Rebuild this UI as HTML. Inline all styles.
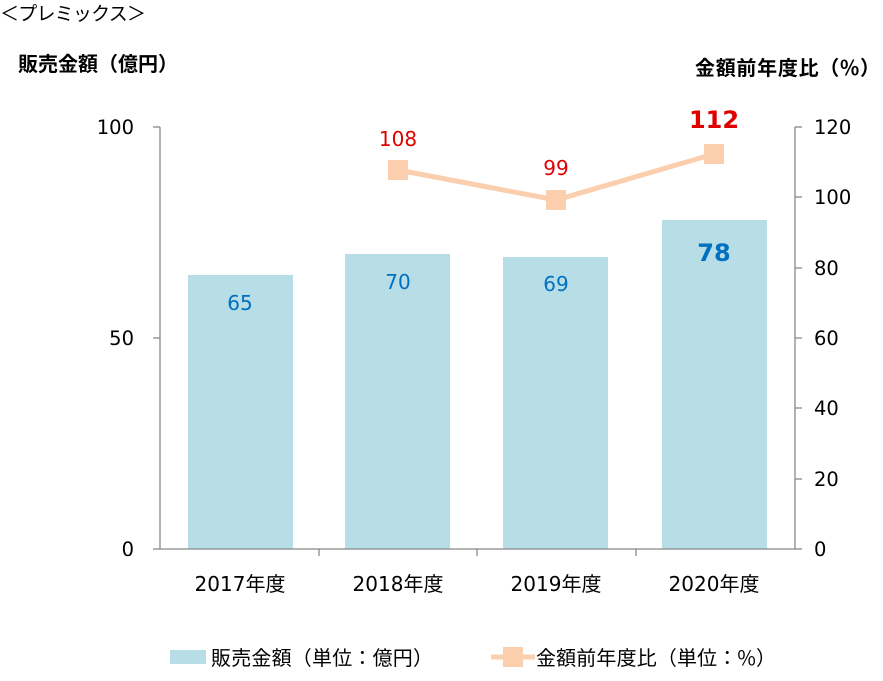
<!DOCTYPE html>
<html><head><meta charset="utf-8"><style>
body{margin:0;background:#fff;}
svg text{font-family:"DejaVu Sans","Liberation Sans","Noto Sans CJK JP",sans-serif;}
.j{font-family:"Noto Sans CJK JP",sans-serif !important;}
</style></head><body>
<svg width="883" height="676" viewBox="0 0 883 676" xmlns="http://www.w3.org/2000/svg">
<text x="0" y="20" font-size="19" fill="#000" class="j" textLength="146">＜プレミックス＞</text>
<text x="18" y="71" font-size="20" font-weight="bold" fill="#000" class="j">販売金額（億円）</text>
<text x="695" y="75" font-size="20" font-weight="bold" fill="#000" class="j" textLength="185">金額前年度比（%）</text>
<g fill="#b7dde7">
<rect x="188" y="275" width="105" height="274"/>
<rect x="345" y="254" width="105" height="295"/>
<rect x="503" y="257" width="105" height="292"/>
<rect x="662" y="220" width="105" height="329"/>
</g>
<g stroke="#888" stroke-width="1.3" fill="none">
<line x1="160" y1="127" x2="160" y2="549"/>
<line x1="153" y1="127" x2="160" y2="127"/>
<line x1="153" y1="338" x2="160" y2="338"/>
<line x1="153" y1="549" x2="160" y2="549"/>
<line x1="160" y1="549" x2="795" y2="549"/>
<line x1="795" y1="127" x2="795" y2="549"/>
<line x1="795" y1="127" x2="802" y2="127"/>
<line x1="795" y1="197" x2="802" y2="197"/>
<line x1="795" y1="268" x2="802" y2="268"/>
<line x1="795" y1="338" x2="802" y2="338"/>
<line x1="795" y1="408" x2="802" y2="408"/>
<line x1="795" y1="479" x2="802" y2="479"/>
<line x1="795" y1="549" x2="802" y2="549"/>
<line x1="319" y1="549" x2="319" y2="556"/>
<line x1="477" y1="549" x2="477" y2="556"/>
<line x1="636" y1="549" x2="636" y2="556"/>
</g>
<g font-size="19.5" fill="#000" text-anchor="end">
<text x="134" y="134">100</text>
<text x="134" y="345">50</text>
<text x="134" y="556">0</text>
</g>
<g font-size="19.5" fill="#000">
<text x="814" y="134">120</text>
<text x="814" y="204">100</text>
<text x="814" y="275">80</text>
<text x="814" y="345">60</text>
<text x="814" y="415">40</text>
<text x="814" y="486">20</text>
<text x="814" y="556">0</text>
</g>
<g font-size="20" fill="#000" text-anchor="middle">
<text x="240" y="591">2017<tspan class="j">年度</tspan></text>
<text x="398" y="591">2018<tspan class="j">年度</tspan></text>
<text x="556" y="591">2019<tspan class="j">年度</tspan></text>
<text x="714" y="591">2020<tspan class="j">年度</tspan></text>
</g>
<g font-size="20" fill="#0070c0" text-anchor="middle">
<text x="240" y="310">65</text>
<text x="398" y="289">70</text>
<text x="556" y="291">69</text>
<text x="714" y="261" font-size="24" font-weight="bold">78</text>
</g>
<polyline points="398,170 556,200 714,154" fill="none" stroke="#fbcfae" stroke-width="5"/>
<g fill="#fbcfae">
<rect x="388" y="160" width="20" height="20"/>
<rect x="546" y="190" width="20" height="20"/>
<rect x="704" y="144" width="20" height="20"/>
</g>
<g font-size="20" fill="#e00000" text-anchor="middle">
<text x="398" y="146">108</text>
<text x="556" y="175">99</text>
<text x="714" y="128" font-size="24" font-weight="bold">112</text>
</g>
<rect x="170" y="650" width="36" height="14" fill="#b7dde7"/>
<text x="211" y="665" font-size="20" fill="#000" class="j" textLength="222">販売金額（単位：億円）</text>
<line x1="491" y1="657" x2="535" y2="657" stroke="#fbcfae" stroke-width="5"/>
<rect x="503" y="647" width="20" height="20" fill="#fbcfae"/>
<text x="536" y="665" font-size="20" fill="#000" class="j" textLength="240">金額前年度比（単位：%）</text>
</svg>
</body></html>
